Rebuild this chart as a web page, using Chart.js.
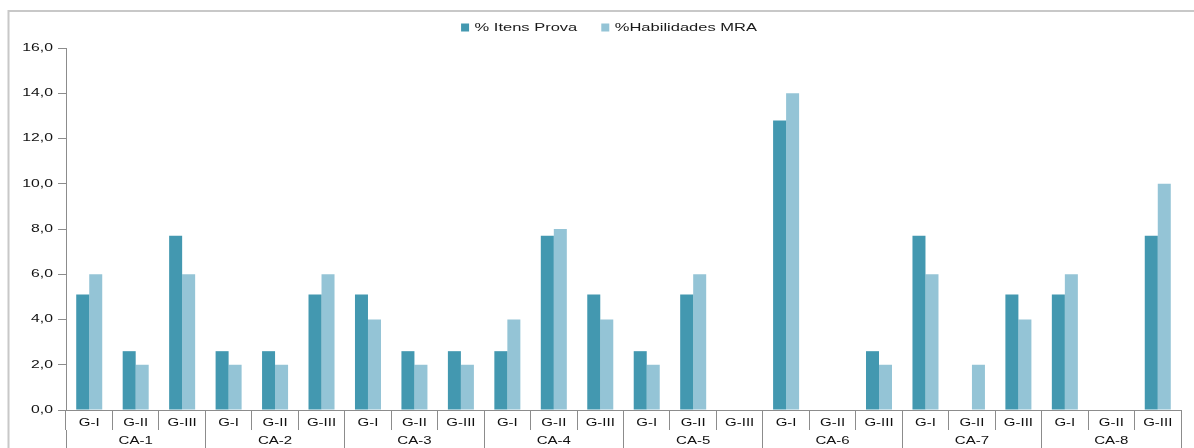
<!DOCTYPE html>
<html>
<head>
<meta charset="utf-8">
<script src="https://cdn.jsdelivr.net/npm/chart.js@4.4.1/dist/chart.umd.min.js"></script>
<style>
  html, body { margin: 0; padding: 0; background: #fff; }
  #wrap { position: relative; width: 1194px; height: 448px; }
</style>
</head>
<body>
<div id="wrap"><canvas id="chart"></canvas></div>
<script>
// Competence areas (outer axis row) and levels (inner axis row)
const groupLabels = ['CA-1', 'CA-2', 'CA-3', 'CA-4', 'CA-5', 'CA-6', 'CA-7', 'CA-8'];
const levelLabels = ['G-I', 'G-II', 'G-III'];
const categoryLabels = groupLabels.flatMap(() => levelLabels);

// Percentages per level, in axis order (CA-1 G-I ... CA-8 G-III)
const itensProva = [
  5.1, 2.6, 7.7,
  2.6, 2.6, 5.1,
  5.1, 2.6, 2.6,
  2.6, 7.7, 5.1,
  2.6, 5.1, 0,
  12.8, 0, 2.6,
  7.7, 0, 5.1,
  5.1, 0, 7.7
];
const habilidadesMRA = [
  6, 2, 6,
  2, 2, 6,
  4, 2, 2,
  4, 8, 4,
  2, 6, 0,
  14, 0, 2,
  6, 2, 4,
  6, 0, 10
];

const seriesNames = ['% Itens Prova', '%Habilidades MRA'];
const yTickValues = [0, 2, 4, 6, 8, 10, 12, 14, 16];

const FONT = 'Liberation Sans, Arial, sans-serif';
const TEXT_STRETCH = 1.5;

// Wide lettering: draw every label stretched horizontally from its anchor
function widenText(ctx) {
  const fill = ctx.fillText;
  const measure = ctx.measureText;
  ctx.fillText = function (text, x, y) {
    this.save();
    this.translate(x, y);
    this.scale(TEXT_STRETCH, 1);
    fill.call(this, text, 0, 0);
    this.restore();
  };
  ctx.measureText = function (text) {
    const m = measure.call(this, text);
    return {
      width: m.width * TEXT_STRETCH,
      actualBoundingBoxAscent: m.actualBoundingBoxAscent,
      actualBoundingBoxDescent: m.actualBoundingBoxDescent,
      actualBoundingBoxLeft: m.actualBoundingBoxLeft * TEXT_STRETCH,
      actualBoundingBoxRight: m.actualBoundingBoxRight * TEXT_STRETCH
    };
  };
}

// White page with the light grey frame on the left and top
const framePlugin = {
  id: 'frame',
  beforeDraw(chart) {
    const ctx = chart.ctx;
    ctx.save();
    ctx.fillStyle = '#ffffff';
    ctx.fillRect(0, 0, chart.width, chart.height);
    ctx.strokeStyle = '#c8c8c8';
    ctx.lineWidth = 2;
    ctx.beginPath();
    ctx.moveTo(8.5, chart.height);
    ctx.lineTo(8.5, 11);
    ctx.lineTo(chart.width, 11);
    ctx.stroke();
    ctx.restore();
  }
};

// Legend row sits a little right of centre, close under the frame line
const legendPlacement = {
  id: 'legendPlacement',
  afterLayout(chart) {
    const lg = chart.legend;
    if (!lg) return;
    const dx = 609 - (lg.left + lg.right) / 2;
    lg.left += dx;
    lg.right += dx;
    const top = -2;
    lg.bottom = top + lg.height;
    lg.top = top;
  }
};

const canvas = document.getElementById('chart');
widenText(canvas.getContext('2d'));

new Chart(canvas, {
  type: 'bar',
  data: {
    labels: categoryLabels,
    datasets: [
      {
        label: seriesNames[0],
        data: itensProva,
        backgroundColor: '#4398b0',
        borderWidth: 0,
        categoryPercentage: 0.56,
        barPercentage: 1.0
      },
      {
        label: seriesNames[1],
        data: habilidadesMRA,
        backgroundColor: '#94c4d6',
        borderWidth: 0,
        categoryPercentage: 0.56,
        barPercentage: 1.0
      }
    ]
  },
  options: {
    responsive: true,
    maintainAspectRatio: false,
    animation: false,
    layout: { padding: { top: 3, left: 10, right: 13, bottom: 0 } },
    plugins: {
      legend: {
        position: 'top',
        align: 'center',
        labels: {
          boxWidth: 8,
          boxHeight: 8,
          padding: 24,
          color: '#1a1a1a',
          font: { family: FONT, size: 11 }
        }
      },
      tooltip: { enabled: false }
    },
    scales: {
      x: {
        type: 'category',
        position: 'bottom',
        weight: 0,
        offset: true,
        grid: {
          offset: true,
          drawOnChartArea: false,
          drawTicks: true,
          tickLength: 20,
          color: '#8c8c8c'
        },
        border: { display: true, color: '#8c8c8c' },
        ticks: {
          autoSkip: false,
          maxRotation: 0,
          minRotation: 0,
          padding: -12.5,
          color: '#111111',
          font: { family: FONT, size: 10 }
        },
        afterFit(scale) { scale.height = 20; }
      },
      x2: {
        type: 'category',
        labels: groupLabels,
        position: 'bottom',
        weight: 1,
        offset: true,
        grid: {
          offset: true,
          drawOnChartArea: false,
          drawTicks: true,
          tickLength: 18,
          color: '#8c8c8c'
        },
        border: { display: false },
        ticks: {
          autoSkip: false,
          maxRotation: 0,
          minRotation: 0,
          padding: -12.5,
          color: '#111111',
          font: { family: FONT, size: 10 }
        },
        afterFit(scale) { scale.height = 18; }
      },
      y: {
        min: yTickValues[0],
        max: yTickValues[yTickValues.length - 1],
        afterBuildTicks(scale) {
          scale.ticks = yTickValues.map(v => ({ value: v }));
        },
        grid: {
          drawOnChartArea: false,
          drawTicks: true,
          tickLength: 8,
          color: '#8c8c8c'
        },
        border: { display: true, color: '#8c8c8c' },
        ticks: {
          padding: 5,
          color: '#111111',
          font: { family: FONT, size: 10.5 },
          callback: (v) => Number(v).toFixed(1).replace('.', ',')
        },
        afterFit(scale) { scale.width = 56; }
      }
    }
  },
  plugins: [framePlugin, legendPlacement]
});
</script>
</body>
</html>
